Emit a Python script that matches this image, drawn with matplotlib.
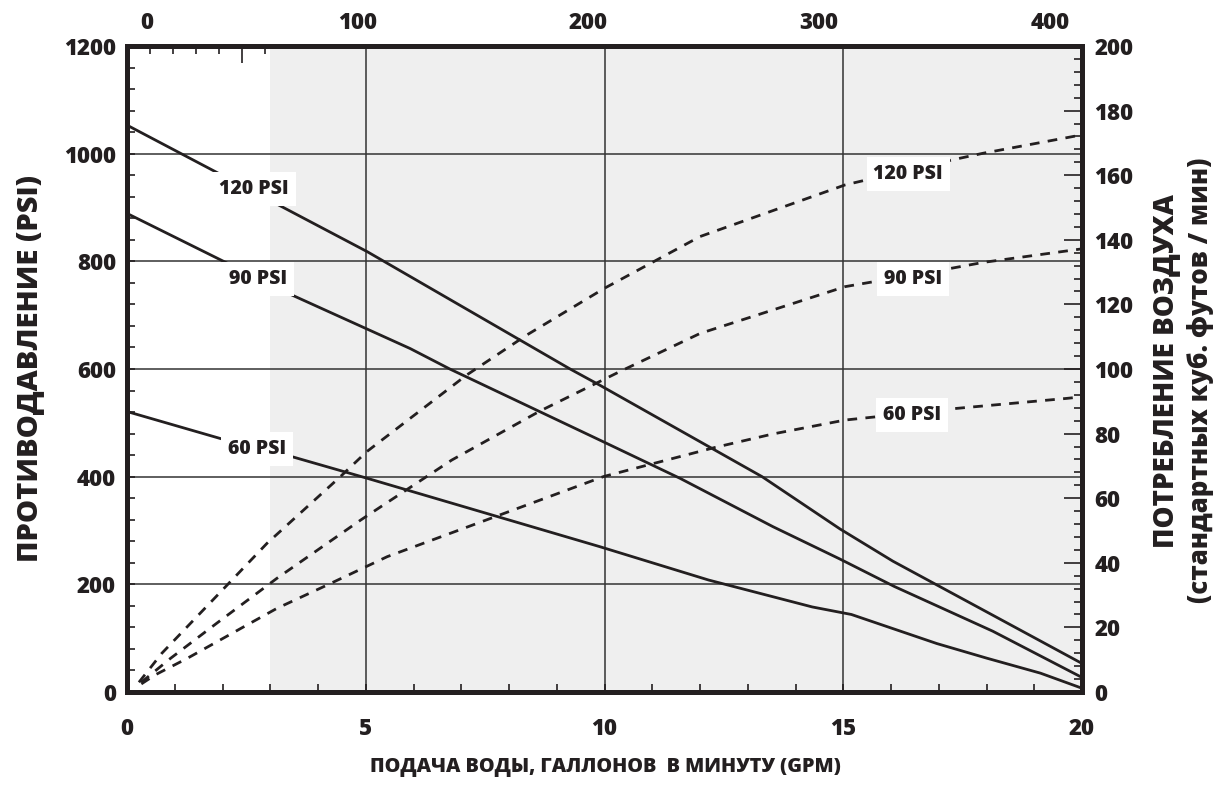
import matplotlib
matplotlib.use("Agg")
import matplotlib.pyplot as plt
import matplotlib.transforms as mtransforms
from matplotlib.ticker import MultipleLocator, FuncFormatter

plt.rcParams['font.family'] = ['Open Sans', 'DejaVu Sans']
plt.rcParams['font.weight'] = 800

INK = '#231f20'
GRID = '#333333'
SHADE = '#efefef'

# Back pressure (left axis, PSI) vs water flow (GPM), one curve per inlet air pressure
bp120_gpm = [0.0, 5.03, 9.28, 9.9, 13.3, 14.93, 16.04, 20.0]
bp120_psi = [1053, 818, 600, 570, 400, 303, 243, 53]

bp90_gpm = [0.0, 3.34, 5.93, 6.76, 9.9, 11.58, 13.53, 14.93, 16.07, 18.13, 20.0]
bp90_psi = [889, 742, 638, 600, 468, 397, 307, 247, 196, 113, 27]

bp60_gpm = [0.0, 1.95, 3.46, 5.03, 9.9, 12.18, 14.35, 15.17, 16.96, 18.0, 19.13, 20.0]
bp60_psi = [521, 471, 437, 397, 270, 208, 158, 144, 90, 63, 35, 7]

# Air consumption (right axis, SCFM) vs water flow (GPM)
air120_gpm = [0.25, 0.73, 2.09, 2.93, 4.47, 5.02, 7.11, 8.37, 10.0, 12.0, 15.04, 17.27, 17.93, 20.0]
air120_scfm = [3, 12, 33, 46, 66.7, 74.4, 98.1, 110.5, 125, 141, 157, 164.7, 166.8, 172.5]

air90_gpm = [0.3, 0.91, 1.88, 3.14, 4.89, 5.34, 6.8, 8.65, 10.32, 12.0, 15.04, 17.27, 17.93, 20.0]
air90_scfm = [3, 10.4, 21.3, 35.2, 53.2, 57.6, 71.8, 87, 99.2, 111, 125.5, 131.2, 133, 137.2]

air60_gpm = [0.3, 0.59, 1.26, 2.41, 3.14, 4.19, 5.45, 9.98, 12.31, 13.53, 15.04, 17.37, 19.68, 20.0]
air60_scfm = [2.5, 5.3, 10.4, 19.9, 25.9, 33.1, 41.9, 66.7, 75.7, 79.9, 84.2, 87.8, 90.9, 91.4]

curve_labels = ['120 PSI', '90 PSI', '60 PSI']
top_tick_values = [0, 100, 200, 300, 400]
TOP_PER_GPM = 20.7

TICK_FS = 16
LABEL_FS = 14

fig = plt.figure(figsize=(12.24, 7.98), dpi=100)
ax = fig.add_axes([127 / 1224, 106 / 798, 955 / 1224, 646 / 798])
ax.set_xlim(0, 20)
ax.set_ylim(0, 1200)

# shaded operating band
ax.axvspan(3, 20, color=SHADE, zorder=0.1, lw=0)

ax.xaxis.set_major_locator(MultipleLocator(5))
ax.xaxis.set_minor_locator(MultipleLocator(1))
ax.yaxis.set_major_locator(MultipleLocator(200))
ax.yaxis.set_minor_locator(MultipleLocator(40))
ax.set_axisbelow(True)
ax.grid(True, which='major', color=GRID, lw=1.1)

ax.tick_params(which='both', direction='in', color=INK, width=1.2,
               top=False, right=False)
ax.tick_params(which='major', length=6)
ax.tick_params(which='minor', length=6)
ax.tick_params(axis='x', labelsize=TICK_FS, pad=18, labelcolor=INK)
ax.tick_params(axis='y', labelsize=TICK_FS, pad=8, labelcolor=INK)

lw = 2.0
ax.plot(bp120_gpm, bp120_psi, color=INK, lw=lw, zorder=3)
ax.plot(bp90_gpm, bp90_psi, color=INK, lw=lw, zorder=3)
ax.plot(bp60_gpm, bp60_psi, color=INK, lw=lw, zorder=3)

box = dict(boxstyle='square,pad=0.35', fc='white', ec='none')
for txt, (x, y) in zip(curve_labels, [(2.66, 934), (2.74, 767), (2.72, 451)]):
    ax.text(x, y, txt, ha='center', va='center', fontsize=LABEL_FS, color=INK,
            bbox=box, zorder=5)

# right axis: air consumption
axr = ax.twinx()
axr.set_ylim(0, 200)
axr.yaxis.set_major_locator(MultipleLocator(20))
axr.yaxis.set_minor_locator(MultipleLocator(4))
axr.tick_params(which='both', direction='in', color=INK, width=1.2)
axr.tick_params(which='major', length=13)
axr.tick_params(which='minor', length=6)
axr.tick_params(axis='y', labelsize=TICK_FS, pad=9, labelcolor=INK)

dash = (0, (3.5, 3.0))
axr.plot(air120_gpm, air120_scfm, color=INK, lw=lw, ls=dash, zorder=3)
axr.plot(air90_gpm, air90_scfm, color=INK, lw=lw, ls=dash, zorder=3)
axr.plot(air60_gpm, air60_scfm, color=INK, lw=lw, ls=dash, zorder=3)

for txt, (x, y) in zip(curve_labels, [(16.36, 160.4), (16.46, 127.9), (16.44, 85.8)]):
    axr.text(x, y, txt, ha='center', va='center', fontsize=LABEL_FS, color=INK,
             bbox=box, zorder=5)

# top axis
secx = ax.secondary_xaxis('top', functions=(lambda g: g * TOP_PER_GPM,
                                            lambda t: t / TOP_PER_GPM))
secx.xaxis.set_major_locator(MultipleLocator(50))
secx.xaxis.set_minor_locator(MultipleLocator(10))
secx.xaxis.set_major_formatter(FuncFormatter(
    lambda v, p: f'{int(round(v))}' if round(v) in top_tick_values[1:] else ''))
secx.tick_params(which='both', direction='in', color=INK, width=1.2)
secx.tick_params(which='major', length=12)
secx.tick_params(which='minor', length=6)
secx.tick_params(axis='x', labelsize=TICK_FS, pad=8, labelcolor=INK)
secx.spines['top'].set_linewidth(3.6)
secx.spines['top'].set_color(INK)

# the zero of the top scale sits a little right of the corner
zero_tr = ax.get_xaxis_transform() + mtransforms.ScaledTranslation(
    20 / 100, 11 / 100, fig.dpi_scale_trans)
ax.text(top_tick_values[0] / TOP_PER_GPM, 1.0, str(top_tick_values[0]),
        transform=zero_tr, ha='center', va='bottom', fontsize=TICK_FS, color=INK)

for a in (ax, axr):
    for s in a.spines.values():
        s.set_linewidth(3.6)
        s.set_color(INK)

fig.text(30 / 1224, 1 - 368 / 798, 'ПРОТИВОДАВЛЕНИЕ (PSI)', rotation=90,
         ha='center', va='center', fontsize=21, color=INK)
fig.text(605 / 1224, 1 - 767 / 798, 'ПОДАЧА ВОДЫ, ГАЛЛОНОВ  В МИНУТУ (GPM)',
         ha='center', va='center', fontsize=14.3, color=INK)
fig.text(1166 / 1224, 1 - 371 / 798, 'ПОТРЕБЛЕНИЕ ВОЗДУХА', rotation=90,
         ha='center', va='center', fontsize=20, color=INK)
fig.text(1201 / 1224, 1 - 380 / 798, '(стандартных куб. футов / мин)', rotation=90,
         ha='center', va='center', fontsize=18.5, color=INK)

fig.savefig('out.png', dpi=100, facecolor='white')
